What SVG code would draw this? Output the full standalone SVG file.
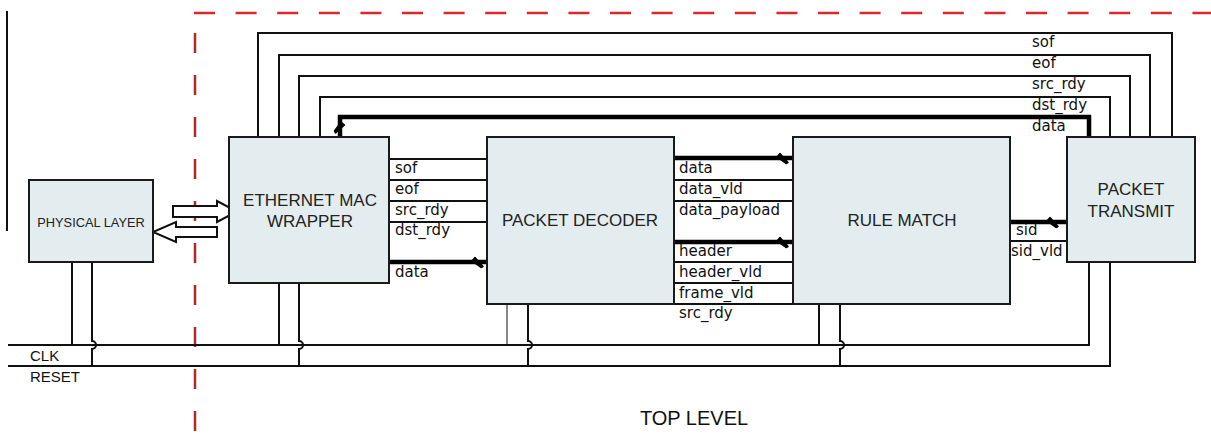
<svg xmlns="http://www.w3.org/2000/svg" width="1211" height="447" viewBox="0 0 1211 447">
<style>
.box{fill:#e3ecee;stroke:#1a1a1a;stroke-width:2}
.w{fill:none;stroke:#111;stroke-width:2}
.t{fill:none;stroke:#000;stroke-width:4.5}
.lbl{font-family:"DejaVu Sans",sans-serif;font-size:15px;fill:#111}
.ttl{font-family:"Liberation Sans",Arial,sans-serif;font-size:17px;fill:#222;text-anchor:middle}
.arr{fill:#fff;stroke:#111;stroke-width:2;stroke-linejoin:miter}
</style>
<defs>
<path id="slash" d="M-6,-1 L-3,-4.5 L5,4.5 L3,5.5 Z" fill="#000" stroke="#000" stroke-width="1.5" stroke-linejoin="round"/>
</defs>
<rect width="1211" height="447" fill="#fff"/>
<g id="frame">
<line x1="7" y1="11" x2="7" y2="231" stroke="#111" stroke-width="2"/>
<line x1="194" y1="13" x2="1211" y2="13" stroke="#d8282c" stroke-width="2.5" stroke-dasharray="21 20.6"/>
<line x1="195" y1="33" x2="195" y2="440" stroke="#b3262a" stroke-width="2.5" stroke-dasharray="20 22"/>
<text x="694" y="425" style="font-family:'Liberation Sans',Arial,sans-serif;font-size:20px;fill:#111;text-anchor:middle">TOP LEVEL</text>
</g>
<g id="connectors">
<path class="w" d="M258,137 V33 H1172 V137"/>
<path class="w" d="M279,137 V55 H1150 V137"/>
<path class="w" d="M299,137 V76 H1130 V137"/>
<path class="w" d="M320,137 V97 H1110 V137"/>
<path class="t" d="M340,137 V117 H1089 V137"/>
<use href="#slash" transform="translate(340,128) rotate(90)"/>
<path class="w" d="M389,159 H487 M389,180 H487 M389,201 H487 M389,222 H487"/>
<path class="t" d="M389,262 H487"/>
<use href="#slash" transform="translate(478,262)"/>
<path class="t" d="M674,158 H793 M674,242 H793"/>
<use href="#slash" transform="translate(783,158)"/>
<use href="#slash" transform="translate(783,242)"/>
<path class="w" d="M674,180 H793 M674,201 H793 M674,262 H793 M674,283 H793 M674,304 H793"/>
<path class="t" d="M1010,222 H1067"/>
<use href="#slash" transform="translate(1053,222)"/>
<path class="w" d="M1010,241 H1067"/>
<path class="w" d="M8,345 H1089 V262"/>
<path class="w" d="M8,366 H1110 V262"/>
<path class="w" d="M72,262 V345 M92,262 V341 a4,4 0 0 1 0,8 V366"/>
<path class="w" d="M279,283 V345 M299,283 V341 a4,4 0 0 1 0,8 V366"/>
<path fill="none" stroke="#111" stroke-width="1" d="M507,304 V345"/>
<path class="w" d="M528,304 V341 a4,4 0 0 1 0,8 V366"/>
<path class="w" d="M819,304 V345 M840,304 V341 a4,4 0 0 1 0,8 V366"/>
<polygon class="arr" points="173,206 217,206 217,201 237,211.5 217,222 217,217 173,217"/>
<polygon class="arr" points="217,227 176,227 176,222 153,232 176,242 176,237 217,237"/>
</g>
<g id="labels">
<text class="lbl" x="1032" y="47">sof</text>
<text class="lbl" x="1032" y="68">eof</text>
<text class="lbl" x="1032" y="89">src_rdy</text>
<text class="lbl" x="1032" y="110">dst_rdy</text>
<text class="lbl" x="1032" y="131">data</text>
<text class="lbl" x="395" y="173">sof</text>
<text class="lbl" x="395" y="194">eof</text>
<text class="lbl" x="395" y="215">src_rdy</text>
<text class="lbl" x="395" y="235">dst_rdy</text>
<text class="lbl" x="395" y="277">data</text>
<text class="lbl" x="679" y="173">data</text>
<text class="lbl" x="679" y="194">data_vld</text>
<text class="lbl" x="679" y="215">data_payload</text>
<text class="lbl" x="679" y="256">header</text>
<text class="lbl" x="679" y="277">header_vld</text>
<text class="lbl" x="679" y="298">frame_vld</text>
<text class="lbl" x="679" y="318">src_rdy</text>
<text class="lbl" x="1016" y="235">sid</text>
<text class="lbl" x="1011" y="256">sid_vld</text>
<text x="30" y="361" style="font-family:'Liberation Sans',Arial,sans-serif;font-size:15px;fill:#111">CLK</text>
<text x="30" y="382" style="font-family:'Liberation Sans',Arial,sans-serif;font-size:15px;fill:#111">RESET</text>
</g>
<g id="physical-layer">
<rect class="box" x="29" y="180" width="124" height="82"/>
<text x="91" y="227" style="font-family:'Liberation Sans',Arial,sans-serif;font-size:12.8px;fill:#222;text-anchor:middle">PHYSICAL LAYER</text>
</g>
<g id="ethernet-mac-wrapper">
<rect class="box" x="229" y="137" width="160" height="146"/>
<text class="ttl" x="310" y="206">ETHERNET MAC</text>
<text class="ttl" x="310" y="227">WRAPPER</text>
</g>
<g id="packet-decoder">
<rect class="box" x="487" y="137" width="187" height="167"/>
<text class="ttl" x="580" y="226">PACKET DECODER</text>
</g>
<g id="rule-match">
<rect class="box" x="793" y="137" width="217" height="167"/>
<text class="ttl" x="902" y="226">RULE MATCH</text>
</g>
<g id="packet-transmit">
<rect class="box" x="1067" y="137" width="128" height="125"/>
<text class="ttl" x="1131" y="195">PACKET</text>
<text class="ttl" x="1131" y="217">TRANSMIT</text>
</g>
</svg>
